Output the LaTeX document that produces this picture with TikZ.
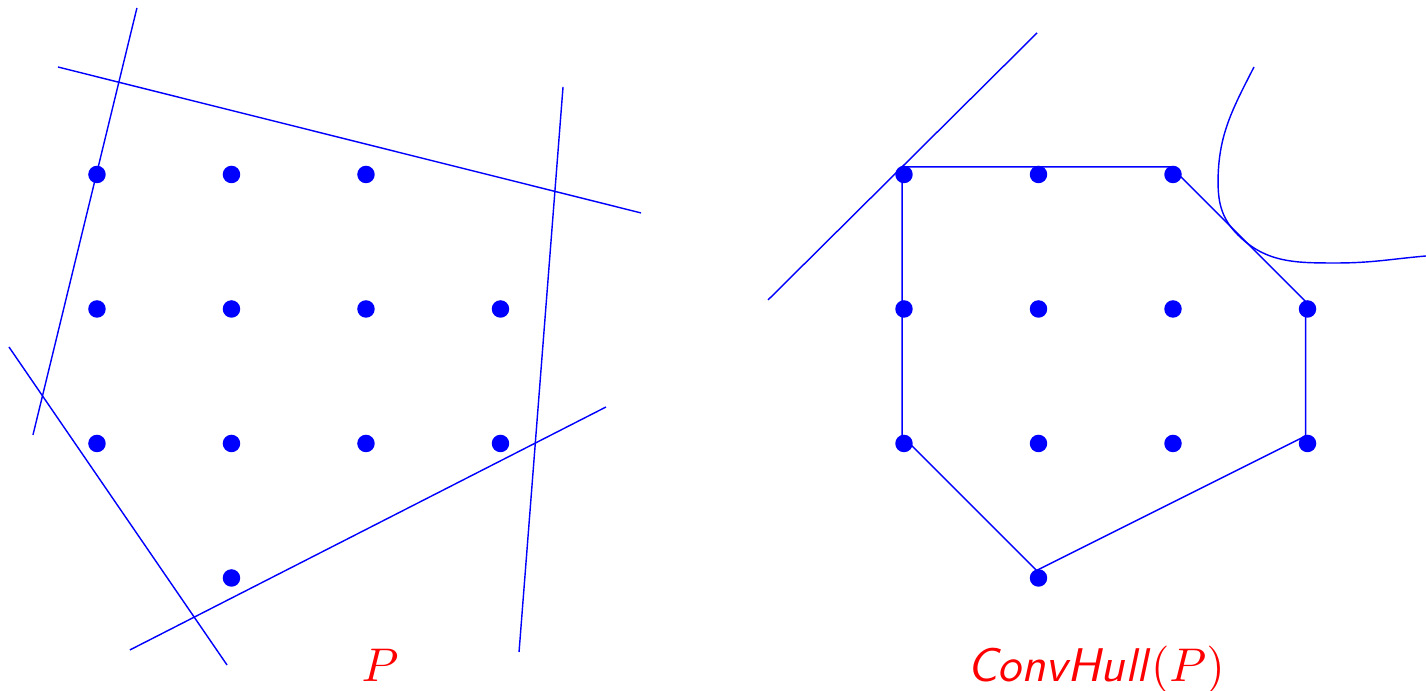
\documentclass[tikz,border=0pt]{standalone}
\usetikzlibrary{positioning}

\begin{document}
\begin{tikzpicture}[
    dot/.style={circle, fill=blue, inner sep=0pt, minimum size=0.13cm},
    cut/.style={draw=blue, line width=0.3pt},
    hull/.style={draw=blue, line width=0.3pt},
    lbl/.style={text=red, anchor=base}
  ]
  \useasboundingbox (-0.721,-0.840) rectangle (9.881,4.297);

  % the point set, left copy and right copy
  \foreach \x/\y in {0/3,1/3,2/3,0/2,1/2,2/2,3/2,0/1,1/1,2/1,3/1,1/0} {
    \node[dot] (l\x\y) at (\x,\y) {};
    \node[dot] (r\x\y) at (\x+6,\y) {};
  }

  % half-planes around P
  \draw[cut] (0.297,4.238) -- (-0.476,1.063);
  \draw[cut] (-0.290,3.799) -- (4.045,2.714);
  \draw[cut] (3.465,3.651) -- (3.138,-0.550);
  \draw[cut] (-0.654,1.717) -- (0.967,-0.647);
  \draw[cut] (0.245,-0.535) -- (3.784,1.271);

  % hull of P
  \begin{scope}[transform canvas={xshift=-0.4pt, yshift=1.6pt}]
    \draw[hull] (r03.center) -- (r23.center) -- (r32.center) -- (r31.center)
      -- (r10.center) -- (r01.center) -- (r02.center) -- cycle;
  \end{scope}

  % supporting line and curve
  \draw[cut] (6.989,4.052) -- (4.989,2.067);
  \coordinate (c0) at (8.602,3.799);
  \coordinate (c1) at (8.335,2.944);
  \coordinate (c2) at (8.483,2.550);
  \coordinate (c3) at (9.219,2.342);
  \coordinate (c4) at (9.881,2.394);
  \draw[cut] (c0) to[out=243,in=90] (c1) to[out=270,in=135] (c2)
    to[out=-45,in=180] (c3) to[out=0,in=185] (c4);

  \node[lbl] (setP) at (2.104,-0.766) {$P$};
  \node[lbl] (hullP) at (7.428,-0.766) {\textsf{\itshape ConvHull}$(P)$};
\end{tikzpicture}
\end{document}
